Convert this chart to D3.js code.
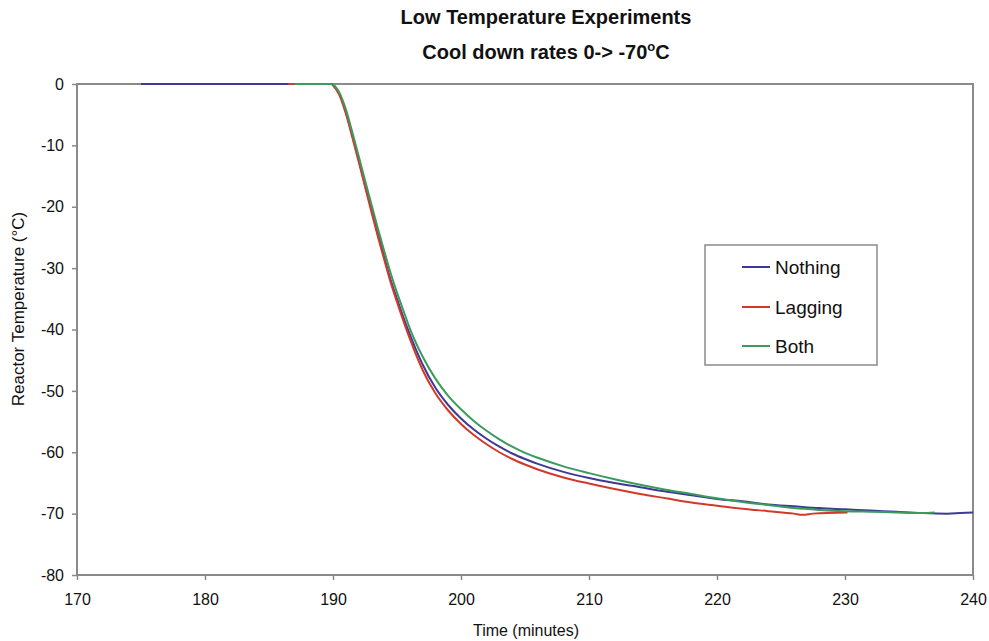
<!DOCTYPE html>
<html>
<head>
<meta charset="utf-8">
<script src="https://cdn.jsdelivr.net/npm/d3@7"></script>
<style>
  html, body { margin: 0; padding: 0; background: #fff; }
  svg { display: block; font-family: "Liberation Sans", Arial, sans-serif; }
</style>
</head>
<body>
<svg id="chart" width="989" height="641"></svg>
<script>
// ---- data ----
const xTicks = [170, 180, 190, 200, 210, 220, 230, 240];
const yTicks = [0, -10, -20, -30, -40, -50, -60, -70, -80];
const seriesNames = ["Nothing", "Lagging", "Both"];
const seriesColors = ["#3d3a96", "#d2392b", "#3b9b5c"];

const nothingTime = [175,180,185,189.9,190,190.5,191,191.5,192,192.5,193,193.5,194,194.5,195,195.5,196,197,198,199,200,201,202,203,204,205,206,208,210,212,214,216,218,220,222,224,226,228,230,232,234,236,238,239,240];
const nothingTemp = [0,0,0,0,-0.2,-1.6,-4.5,-8.3,-12.3,-16.4,-20.4,-24.4,-28.2,-31.9,-35.0,-38.0,-40.8,-45.7,-49.5,-52.3,-54.5,-56.3,-57.8,-59.1,-60.2,-61.1,-61.9,-63.2,-64.2,-65.0,-65.7,-66.4,-67.0,-67.6,-68.0,-68.5,-68.8,-69.1,-69.3,-69.5,-69.7,-69.9,-70.0,-69.9,-69.8];

const laggingTime = [186.5,189.9,190,190.5,191,191.5,192,192.5,193,193.5,194,194.5,195,195.5,196,197,198,199,200,201,202,203,204,205,206,208,210,212,214,216,218,220,222,224,226,226.7,227.5,230.2];
const laggingTemp = [0,0,-0.2,-1.8,-4.8,-8.6,-12.6,-16.7,-20.8,-24.8,-28.6,-32.3,-35.5,-38.6,-41.5,-46.6,-50.4,-53.2,-55.4,-57.2,-58.7,-60.0,-61.1,-62.0,-62.8,-64.1,-65.1,-66.0,-66.8,-67.5,-68.2,-68.7,-69.2,-69.6,-70.0,-70.2,-70.0,-69.8];

const bothTime = [187,189.9,190,190.5,191,191.5,192,192.5,193,193.5,194,194.5,195,195.5,196,197,198,199,200,201,202,203,204,205,206,208,210,212,214,216,218,220,222,224,226,228,230,232,234,236,237];
const bothTemp = [0,0,-0.1,-1.4,-4.1,-7.8,-11.7,-15.7,-19.6,-23.5,-27.2,-30.8,-34.0,-36.9,-39.8,-44.4,-48.0,-50.8,-53.0,-54.9,-56.5,-57.9,-59.1,-60.1,-60.9,-62.3,-63.4,-64.4,-65.3,-66.1,-66.8,-67.5,-68.1,-68.6,-69.1,-69.4,-69.6,-69.7,-69.8,-69.9,-69.8];

const seriesTimes = [nothingTime, laggingTime, bothTime];
const seriesTemps = [nothingTemp, laggingTemp, bothTemp];

// ---- layout ----
const svg = d3.select("#chart");
const L = 77, R = 973, T = 84, B = 575;
const x = d3.scaleLinear().domain([170, 240]).range([L, R]);
const y = d3.scaleLinear().domain([-80, 0]).range([B, T]);
const axisColor = "#8a8a8a";

// titles
svg.append("text").attr("x", 546).attr("y", 24).attr("text-anchor", "middle")
  .attr("font-size", 20).attr("font-weight", "bold").attr("fill", "#111")
  .text("Low Temperature Experiments");
const sub = svg.append("text").attr("x", 546).attr("y", 59).attr("text-anchor", "middle")
  .attr("font-size", 20).attr("font-weight", "bold").attr("fill", "#111");
sub.append("tspan").text("Cool down rates 0-> -70");
sub.append("tspan").attr("font-size", 13).attr("dy", -8).text("o");
sub.append("tspan").attr("dy", 8).text("C");

// axes
const xAxis = d3.axisBottom(x).tickValues(xTicks).tickSize(5).tickPadding(14).tickFormat(d3.format("d"));
const yAxis = d3.axisLeft(y).tickValues(yTicks).tickSize(5).tickPadding(8).tickFormat(d3.format("d"));

const gx = svg.append("g").attr("transform", `translate(0,${B})`).call(xAxis);
const gy = svg.append("g").attr("transform", `translate(${L},0)`).call(yAxis);
[gx, gy].forEach(g => {
  g.select(".domain").remove();
  g.selectAll(".tick line").attr("stroke", axisColor).attr("stroke-width", 1.5);
  g.selectAll(".tick text").attr("fill", "#111").attr("font-size", 16)
    .attr("font-family", "'Liberation Sans', Arial, sans-serif");
});
gy.selectAll(".tick text").text(d => String(d));

// plot border
svg.append("rect").attr("x", L).attr("y", T).attr("width", R - L).attr("height", B - T)
  .attr("fill", "none").attr("stroke", axisColor).attr("stroke-width", 2);

// axis titles
svg.append("text").attr("x", 526).attr("y", 636).attr("text-anchor", "middle")
  .attr("font-size", 16).attr("fill", "#111").text("Time (minutes)");
svg.append("text").attr("transform", "translate(24,309) rotate(-90)").attr("text-anchor", "middle")
  .attr("font-size", 17).attr("fill", "#111").text("Reactor Temperature (°C)");

// lines
const line = d3.line().x(d => x(d[0])).y(d => y(d[1])).curve(d3.curveMonotoneX);
seriesNames.forEach((name, i) => {
  const pts = seriesTimes[i].map((t, j) => [t, seriesTemps[i][j]]);
  svg.append("path").datum(pts).attr("d", line)
    .attr("fill", "none").attr("stroke", seriesColors[i]).attr("stroke-width", 2);
});

// legend
const lg = svg.append("g");
lg.append("rect").attr("x", 705).attr("y", 245).attr("width", 172).attr("height", 120)
  .attr("fill", "#fff").attr("stroke", axisColor).attr("stroke-width", 1.5);
const legendY = [267, 307, 346];
seriesNames.forEach((name, i) => {
  lg.append("line").attr("x1", 742).attr("x2", 770).attr("y1", legendY[i]).attr("y2", legendY[i])
    .attr("stroke", seriesColors[i]).attr("stroke-width", 2);
  lg.append("text").attr("x", 775).attr("y", legendY[i] + 7).attr("font-size", 19)
    .attr("fill", "#111").text(name);
});
</script>
</body>
</html>
